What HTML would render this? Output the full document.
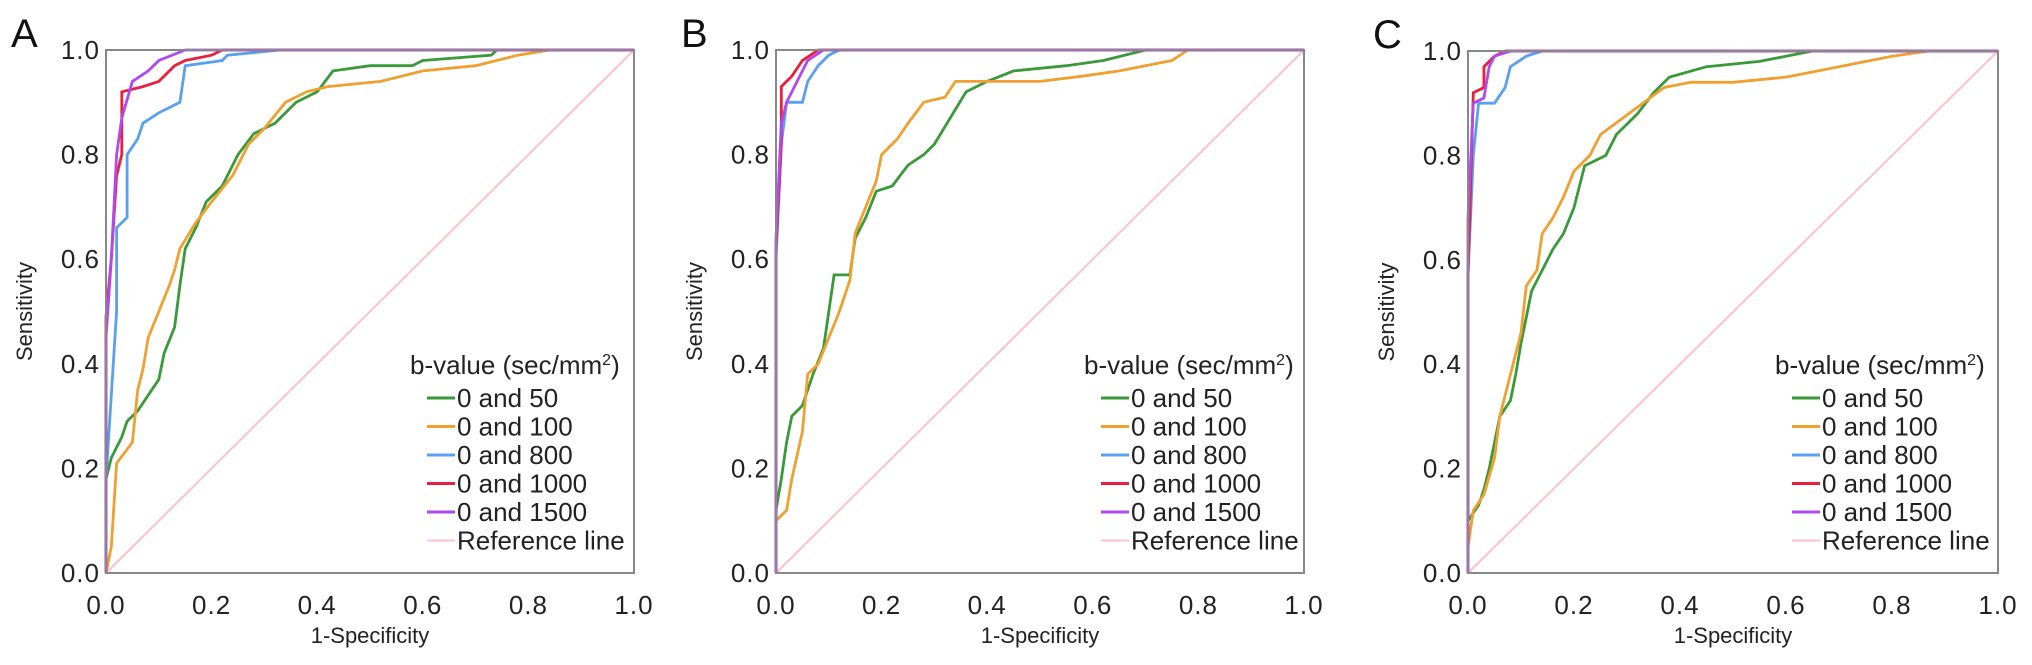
<!DOCTYPE html>
<html><head><meta charset="utf-8"><style>
html,body{margin:0;padding:0;background:#fff;}
svg{display:block;font-family:"Liberation Sans",Arial,sans-serif;}
</style></head><body>
<svg id="chart" width="2032" height="665" viewBox="0 0 2032 665" xmlns="http://www.w3.org/2000/svg"></svg>
<script>
const ticks = [0, 0.2, 0.4, 0.6, 0.8, 1.0];
const tickLabels = ["0.0","0.2","0.4","0.6","0.8","1.0"];
const seriesNames = ["0 and 50","0 and 100","0 and 800","0 and 1000","0 and 1500"];
const seriesKeys = ["b50","b100","b800","b1000","b1500"];
const panelLetters = ["A","B","C"];
const A_b50 = [[0,0],[0,0.18],[0.01,0.22],[0.03,0.26],[0.04,0.29],[0.06,0.31],[0.08,0.34],[0.1,0.37],[0.11,0.42],[0.13,0.47],[0.14,0.55],[0.15,0.62],[0.17,0.66],[0.19,0.71],[0.22,0.74],[0.25,0.8],[0.28,0.84],[0.32,0.86],[0.36,0.9],[0.4,0.92],[0.43,0.96],[0.5,0.97],[0.58,0.97],[0.6,0.98],[0.73,0.99],[0.74,1],[1,1]];
const A_b100 = [[0,0],[0.01,0.05],[0.02,0.21],[0.05,0.25],[0.06,0.35],[0.07,0.39],[0.08,0.45],[0.1,0.5],[0.12,0.55],[0.13,0.58],[0.14,0.62],[0.17,0.67],[0.2,0.71],[0.24,0.76],[0.27,0.82],[0.3,0.85],[0.34,0.9],[0.38,0.92],[0.42,0.93],[0.52,0.94],[0.6,0.96],[0.7,0.97],[0.78,0.99],[0.84,1],[1,1]];
const A_b800 = [[0,0],[0,0.18],[0.01,0.34],[0.02,0.5],[0.02,0.66],[0.04,0.68],[0.04,0.8],[0.06,0.83],[0.07,0.86],[0.1,0.88],[0.14,0.9],[0.15,0.97],[0.22,0.98],[0.23,0.99],[0.33,1],[1,1]];
const A_b1000 = [[0,0],[0,0.49],[0.01,0.6],[0.02,0.76],[0.03,0.8],[0.03,0.92],[0.07,0.93],[0.1,0.94],[0.13,0.97],[0.15,0.98],[0.2,0.99],[0.22,1],[1,1]];
const A_b1500 = [[0,0],[0,0.45],[0.01,0.6],[0.02,0.8],[0.03,0.87],[0.05,0.94],[0.08,0.96],[0.1,0.98],[0.15,1],[1,1]];
const B_b50 = [[0,0],[0,0.12],[0.01,0.18],[0.02,0.25],[0.03,0.3],[0.05,0.32],[0.07,0.38],[0.09,0.43],[0.1,0.5],[0.11,0.57],[0.14,0.57],[0.15,0.64],[0.17,0.68],[0.19,0.73],[0.22,0.74],[0.25,0.78],[0.28,0.8],[0.3,0.82],[0.33,0.87],[0.36,0.92],[0.4,0.94],[0.45,0.96],[0.55,0.97],[0.62,0.98],[0.7,1],[1,1]];
const B_b100 = [[0,0],[0,0.1],[0.02,0.12],[0.03,0.18],[0.05,0.27],[0.06,0.38],[0.08,0.4],[0.1,0.45],[0.12,0.5],[0.14,0.56],[0.15,0.65],[0.17,0.7],[0.19,0.75],[0.2,0.8],[0.23,0.83],[0.25,0.86],[0.28,0.9],[0.32,0.91],[0.34,0.94],[0.4,0.94],[0.5,0.94],[0.58,0.95],[0.65,0.96],[0.75,0.98],[0.78,1],[1,1]];
const B_b800 = [[0,0],[0,0.6],[0.01,0.82],[0.02,0.9],[0.05,0.9],[0.06,0.94],[0.08,0.97],[0.1,0.99],[0.12,1],[1,1]];
const B_b1000 = [[0,0],[0,0.62],[0.01,0.82],[0.01,0.93],[0.03,0.95],[0.05,0.98],[0.08,1],[1,1]];
const B_b1500 = [[0,0],[0,0.64],[0.01,0.86],[0.02,0.9],[0.04,0.94],[0.06,0.98],[0.09,1],[1,1]];
const C_b50 = [[0,0],[0,0.1],[0.02,0.13],[0.03,0.16],[0.04,0.2],[0.05,0.25],[0.06,0.3],[0.08,0.33],[0.09,0.38],[0.1,0.44],[0.11,0.49],[0.12,0.54],[0.14,0.58],[0.16,0.62],[0.18,0.65],[0.2,0.7],[0.22,0.78],[0.26,0.8],[0.28,0.84],[0.32,0.88],[0.35,0.92],[0.38,0.95],[0.45,0.97],[0.55,0.98],[0.65,1],[1,1]];
const C_b100 = [[0,0],[0,0.05],[0.01,0.12],[0.03,0.15],[0.05,0.22],[0.06,0.3],[0.07,0.34],[0.08,0.38],[0.1,0.46],[0.11,0.55],[0.13,0.58],[0.14,0.65],[0.16,0.68],[0.18,0.72],[0.2,0.77],[0.23,0.8],[0.25,0.84],[0.29,0.87],[0.33,0.9],[0.37,0.93],[0.42,0.94],[0.5,0.94],[0.6,0.95],[0.7,0.97],[0.8,0.99],[0.87,1],[1,1]];
const C_b800 = [[0,0],[0,0.57],[0.01,0.8],[0.02,0.9],[0.05,0.9],[0.07,0.93],[0.08,0.97],[0.11,0.99],[0.14,1],[1,1]];
const C_b1000 = [[0,0],[0,0.57],[0.01,0.92],[0.03,0.93],[0.03,0.97],[0.05,0.99],[0.07,1],[1,1]];
const C_b1500 = [[0,0],[0,0.68],[0.01,0.9],[0.03,0.91],[0.04,0.97],[0.05,0.99],[0.08,1],[1,1]];

const panelData = {
  A:{b50:A_b50,b100:A_b100,b800:A_b800,b1000:A_b1000,b1500:A_b1500},
  B:{b50:B_b50,b100:B_b100,b800:B_b800,b1000:B_b1000,b1500:B_b1500},
  C:{b50:C_b50,b100:C_b100,b800:C_b800,b1000:C_b1000,b1500:C_b1500}
};
const colors = {b50:"#3a9a3a",b100:"#f0a030",b800:"#5aa0f0",b1000:"#e8203c",b1500:"#b04af0"};
const boxes = {A:{l:106,r:634,t:50,b:573,lx:410},B:{l:776,r:1304,t:50,b:573,lx:1084},C:{l:1468,r:1998,t:51,b:573,lx:1775}};

const NS="http://www.w3.org/2000/svg";
const svg=document.getElementById('chart');
function mk(tag,attrs,parent){const e=document.createElementNS(NS,tag);for(const k in attrs)e.setAttribute(k,attrs[k]);(parent||svg).appendChild(e);return e;}

panelLetters.forEach(P=>{
  const bx=boxes[P];
  const g=mk('g',{});
  
  
  const sx=v=>bx.l+v*(bx.r-bx.l);
  const sy=v=>bx.b-v*(bx.b-bx.t);
  const letter=mk('text',{x:bx.l-95,y:bx.t-3,'font-size':40,fill:'#111'},g);
  letter.textContent=P;
  
  
  const ref=mk('line',{x1:sx(0),y1:sy(0),x2:sx(1),y2:sy(1),stroke:'#ffc0cb','stroke-width':2},g);
  
  
  seriesKeys.forEach((k,i)=>{
    const pts=panelData[P][k].map(p=>sx(p[0]).toFixed(1)+','+sy(p[1]).toFixed(1)).join(' ');
    const pl=mk('polyline',{points:pts,fill:'none',stroke:colors[k],'stroke-width':2.8,'stroke-linejoin':'miter'},g);
    
    
  });
  const frame=mk('rect',{x:bx.l,y:bx.t,width:bx.r-bx.l,height:bx.b-bx.t,fill:'none',stroke:'#888','stroke-width':2},g);
  
  
  ticks.forEach((t,i)=>{
    const yt=mk('text',{x:bx.l-6,y:sy(t)+9,'font-size':26,'letter-spacing':1,'text-anchor':'end',fill:'#222'},g);
    yt.textContent=tickLabels[i];
    
    
    const xt=mk('text',{x:sx(t),y:bx.b+41,'font-size':26,'letter-spacing':1,'text-anchor':'middle',fill:'#222'},g);
    xt.textContent=tickLabels[i];
    
    
  });
  const xtitle=mk('text',{x:(bx.l+bx.r)/2,y:bx.b+70,'font-size':22,'text-anchor':'middle',fill:'#222'},g);
  xtitle.textContent='1-Specificity';
  
  
  const cy=(bx.t+bx.b)/2, cx=bx.l-74;
  const ytitle=mk('text',{x:cx,y:cy,'font-size':22,'text-anchor':'middle',fill:'#222',transform:`rotate(-90 ${cx} ${cy})`},g);
  ytitle.textContent='Sensitivity';
  
  
  const lg=mk('g',{},g);
  
  
  const lt=mk('text',{x:bx.lx,y:374,'font-size':26,fill:'#222'},lg);
  lt.innerHTML='b-value (sec/mm<tspan dy="-9" font-size="16">2</tspan><tspan dy="9">)</tspan>';
  
  
  const names=seriesNames.concat(['Reference line']);
  const cols=seriesKeys.map(k=>colors[k]).concat(['#ffc0cb']);
  names.forEach((n,i)=>{
    const y=398+i*28.5;
    const ln=mk('line',{x1:bx.lx+17,y1:y,x2:bx.lx+45,y2:y,stroke:cols[i],'stroke-width':i==5?2:3},lg);
    
    
    const tx=mk('text',{x:bx.lx+47,y:y+9,'font-size':26,fill:'#222'},lg);
    tx.textContent=n;
    
    
  });
});
</script>
</body></html>
